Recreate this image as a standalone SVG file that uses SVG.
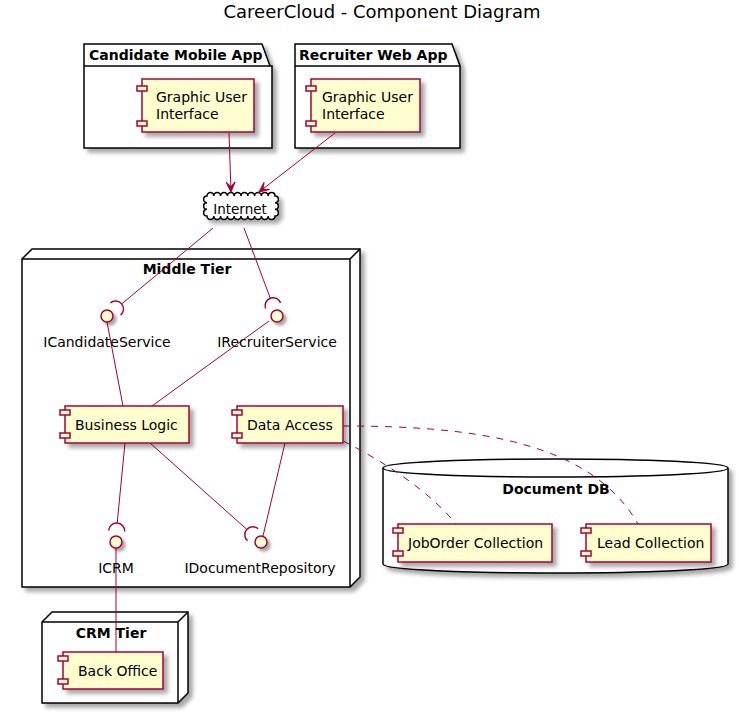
<svg xmlns="http://www.w3.org/2000/svg" width="739" height="714" viewBox="0 0 739 714">
<style>
text{font-family:"DejaVu Sans","Liberation Sans",sans-serif;fill:#000}
.t{font-size:18px}
.b{font-size:14px;font-weight:bold}
.l{font-size:14px}
.c{text-anchor:middle}
.frame{fill:#fff;stroke:#000;stroke-width:1.5}
.comp{fill:#FEFECE;stroke:#A80036;stroke-width:1.5}
.iface{fill:#FEFECE;stroke:#A80036;stroke-width:1.5}
.ln{fill:none;stroke:#A80036;stroke-width:1}
.dash{fill:none;stroke:#A80036;stroke-width:1;stroke-dasharray:7,7}
.sock{fill:none;stroke:#A80036;stroke-width:1.5}
</style>
<defs>
<filter id="sh" x="-20%" y="-20%" width="150%" height="150%">
<feGaussianBlur in="SourceAlpha" stdDeviation="2"/>
<feOffset dx="4" dy="4" result="o"/>
<feComponentTransfer><feFuncA type="linear" slope="0.35"/></feComponentTransfer>
<feMerge><feMergeNode/><feMergeNode in="SourceGraphic"/></feMerge>
</filter>
<filter id="shc" x="-100%" y="-100%" width="300%" height="300%">
<feGaussianBlur in="SourceAlpha" stdDeviation="1.5"/>
<feOffset dx="3" dy="3" result="o"/>
<feComponentTransfer><feFuncA type="linear" slope="0.35"/></feComponentTransfer>
<feMerge><feMergeNode/><feMergeNode in="SourceGraphic"/></feMerge>
</filter>
<marker id="ar" markerWidth="12" markerHeight="10" viewBox="-11 -5 12 10" refX="0" refY="0" orient="auto" markerUnits="userSpaceOnUse">
<path d="M0,0 L-10,-4.5 L-5,0 L-10,4.5 Z" fill="#A80036" stroke="#A80036" stroke-width="1"/>
</marker>
</defs>
<rect width="739" height="714" fill="#fff"/>
<text class="t c" x="382" y="18">CareerCloud - Component Diagram</text>

<g id="pkg-candidate">
<g filter="url(#sh)">
<path class="frame" d="M84,66 L84,44 L262,44 L270,66 L272,66 L272,148 L84,148 Z"/>
</g>
<line x1="84" y1="66" x2="270" y2="66" stroke="#000" stroke-width="1.5"/>
<text class="b" x="89" y="60">Candidate Mobile App</text>
</g>
<g id="pkg-recruiter">
<g filter="url(#sh)">
<path class="frame" d="M295,66 L295,44 L452,44 L460,66 L460,148 L295,148 Z"/>
</g>
<line x1="295" y1="66" x2="460" y2="66" stroke="#000" stroke-width="1.5"/>
<text class="b" x="299" y="60">Recruiter Web App</text>
</g>

<g id="gui-candidate">
<rect class="comp" x="142" y="79" width="112" height="53" filter="url(#sh)"/>
<rect class="comp" x="137" y="86" width="10" height="5"/>
<rect class="comp" x="137" y="121" width="10" height="5"/>
<text class="l" x="156" y="102">Graphic User</text>
<text class="l" x="156" y="119">Interface</text>
</g>
<g id="gui-recruiter">
<rect class="comp" x="311" y="79" width="109" height="53" filter="url(#sh)"/>
<rect class="comp" x="306" y="86" width="10" height="5"/>
<rect class="comp" x="306" y="121" width="10" height="5"/>
<text class="l" x="322" y="102">Graphic User</text>
<text class="l" x="322" y="119">Interface</text>
</g>

<g id="internet">
<path class="frame" filter="url(#sh)" d="M207,196 a3.4,3.4 0 0,1 6.8,0 a3.4,3.4 0 0,1 6.8,0 a3.4,3.4 0 0,1 6.8,0 a3.4,3.4 0 0,1 6.8,0 a3.4,3.4 0 0,1 6.8,0 a3.4,3.4 0 0,1 6.8,0 a3.4,3.4 0 0,1 6.8,0 a3.4,3.4 0 0,1 6.8,0 a3.4,3.4 0 0,1 6.8,0 a3.4,3.4 0 0,1 6.8,0 a3.33,3.33 0 0,1 0,6.67 a3.33,3.33 0 0,1 0,6.67 a3.33,3.33 0 0,1 0,6.66 a3.4,3.4 0 0,1 -6.8,0 a3.4,3.4 0 0,1 -6.8,0 a3.4,3.4 0 0,1 -6.8,0 a3.4,3.4 0 0,1 -6.8,0 a3.4,3.4 0 0,1 -6.8,0 a3.4,3.4 0 0,1 -6.8,0 a3.4,3.4 0 0,1 -6.8,0 a3.4,3.4 0 0,1 -6.8,0 a3.4,3.4 0 0,1 -6.8,0 a3.4,3.4 0 0,1 -6.8,0 a3.33,3.33 0 0,1 0,-6.66 a3.33,3.33 0 0,1 0,-6.67 a3.33,3.33 0 0,1 0,-6.67 Z"/>
<text class="l c" x="240" y="214" style="font-size:13.5px">Internet</text>
</g>

<g id="middle-tier">
<g filter="url(#sh)">
<path class="frame" d="M22,259 L32,249 L360,249 L360,577 L350,587 L22,587 Z"/>
</g>
<path fill="none" stroke="#000" stroke-width="1.5" d="M22,259 L350,259 L360,249 M350,259 L350,587"/>
<text class="b c" x="187" y="274">Middle Tier</text>
</g>

<g id="crm-tier">
<g filter="url(#sh)">
<path class="frame" d="M42,622 L52,612 L188,612 L188,693 L178,703 L42,703 Z"/>
</g>
<path fill="none" stroke="#000" stroke-width="1.5" d="M42,622 L178,622 L188,612 M178,622 L178,703"/>
<text class="b c" x="111" y="638">CRM Tier</text>
</g>

<g id="document-db">
<g filter="url(#sh)">
<path class="frame" d="M383,468 C383,456 728,456 728,468 L728,564 C728,576 383,576 383,564 Z"/>
</g>
<path fill="none" stroke="#000" stroke-width="1.5" d="M383,468 C383,480 728,480 728,468"/>
<text class="b c" x="556" y="494">Document DB</text>
</g>

<g id="connectors">
<line class="ln" x1="229" y1="133" x2="231" y2="192" marker-end="url(#ar)"/>
<line class="ln" x1="335" y1="133" x2="259" y2="192" marker-end="url(#ar)"/>
<line class="ln" x1="213" y1="228" x2="121.7" y2="303.9"/>
<line class="ln" x1="244" y1="228" x2="270.3" y2="298.2"/>
<line class="ln" x1="107" y1="322" x2="123" y2="406"/>
<line class="ln" x1="269" y1="321" x2="152" y2="406"/>
<line class="ln" x1="125" y1="443" x2="117.2" y2="523"/>
<line class="ln" x1="150" y1="443" x2="246.8" y2="529.4"/>
<line class="ln" x1="285" y1="443" x2="263" y2="536"/>
<line class="ln" x1="116" y1="548" x2="116" y2="652"/>
<path class="dash" d="M343,426 C470,426 590,440 638,524"/>
<path class="dash" d="M343,441 C385,462 430,492 456,524"/>
</g>

<g id="business-logic">
<rect class="comp" x="65" y="406" width="124" height="37" filter="url(#sh)"/>
<rect class="comp" x="60" y="410" width="10" height="5"/>
<rect class="comp" x="60" y="433" width="10" height="5"/>
<text class="l" x="75" y="430">Business Logic</text>
</g>
<g id="data-access">
<rect class="comp" x="237" y="406" width="106" height="37" filter="url(#sh)"/>
<rect class="comp" x="232" y="410" width="10" height="5"/>
<rect class="comp" x="232" y="433" width="10" height="5"/>
<text class="l" x="247" y="430">Data Access</text>
</g>

<g id="icandidateservice">
<circle class="iface" cx="107" cy="316" r="6" filter="url(#shc)"/>
<path class="sock" d="M-8,0 A8,8 0 0,1 8,0" transform="translate(115.5,309) rotate(50.3)"/>
<text class="l c" x="107" y="347">ICandidateService</text>
</g>
<g id="irecruiterservice">
<circle class="iface" cx="277" cy="316" r="6" filter="url(#shc)"/>
<path class="sock" d="M-8,0 A8,8 0 0,1 8,0" transform="translate(273.1,305.7) rotate(-20.6)"/>
<text class="l c" x="277" y="347">IRecruiterService</text>
</g>
<g id="icrm">
<circle class="iface" cx="116" cy="542" r="6" filter="url(#shc)"/>
<path class="sock" d="M-8,0 A8,8 0 0,1 8,0" transform="translate(116.7,531) rotate(3.4)"/>
<text class="l c" x="116" y="573">ICRM</text>
</g>
<g id="idocumentrepository">
<circle class="iface" cx="261" cy="542" r="6" filter="url(#shc)"/>
<path class="sock" d="M-8,0 A8,8 0 0,1 8,0" transform="translate(252.8,534.7) rotate(-48.5)"/>
<text class="l c" x="260" y="573">IDocumentRepository</text>
</g>

<g id="joborder-collection">
<rect class="comp" x="398" y="524" width="154" height="38" filter="url(#sh)"/>
<rect class="comp" x="393" y="528" width="10" height="5"/>
<rect class="comp" x="393" y="551" width="10" height="5"/>
<text class="l" x="408" y="548">JobOrder Collection</text>
</g>
<g id="lead-collection">
<rect class="comp" x="586" y="524" width="125" height="38" filter="url(#sh)"/>
<rect class="comp" x="581" y="528" width="10" height="5"/>
<rect class="comp" x="581" y="551" width="10" height="5"/>
<text class="l" x="597" y="548">Lead Collection</text>
</g>
<g id="back-office">
<rect class="comp" x="63" y="652" width="100" height="37" filter="url(#sh)"/>
<rect class="comp" x="58" y="656" width="10" height="5"/>
<rect class="comp" x="58" y="679" width="10" height="5"/>
<text class="l" x="78" y="676">Back Office</text>
</g>
</svg>
